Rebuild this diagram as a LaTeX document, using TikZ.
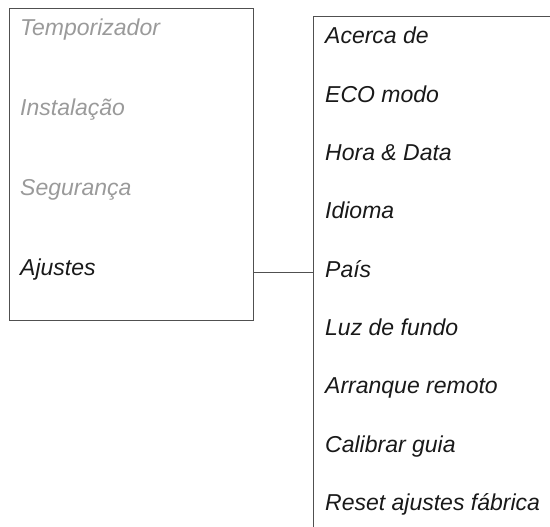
\documentclass[tikz,border=0pt]{standalone}
\usepackage{fontspec}
\setmainfont{Liberation Sans}
\usetikzlibrary{positioning}
\definecolor{menugray}{HTML}{9A9A9A}
\definecolor{framegray}{HTML}{505050}

\begin{document}
\begin{tikzpicture}[x=1pt,y=-1pt,font=\fontsize{23}{27}\selectfont\itshape]
\tikzstyle{frame}=[draw=framegray,line width=0.9pt]
\tikzstyle{item}=[anchor=base west,inner sep=0pt,text=black!90]
\tikzstyle{off}=[item,text=menugray]
\useasboundingbox (0,0) rectangle (550,527);
\clip (0,0) rectangle (550,527);
% main menu
\node[frame,draw,anchor=north west,minimum width=244pt,minimum height=312pt,inner sep=0pt] (menu) at (9,8) {};
\node[off] (timer) at (20,35.5) {Temporizador};
\node[off] (inst) at (20,115.5) {Instalação};
\node[off] (safe) at (20,195.5) {Segurança};
\node[item] (set) at (20,275.5) {Ajustes};
% submenu (runs off the page)
\node[frame,draw,anchor=north west,minimum width=300pt,minimum height=560pt,inner sep=0pt] (sub) at (313,16) {};
\foreach \name/\txt [count=\i from 0] in {about/Acerca de,eco/ECO modo,clock/Hora \& Data,lang/Idioma,country/País,light/Luz de fundo,remote/Arranque remoto,guide/Calibrar guia,reset/Reset ajustes fábrica}
  \node[item] (\name) at (325,44+58.3*\i) {\txt};
% link
\coordinate (out) at (menu.east |- 0,272);
\coordinate (in) at (sub.west |- 0,272);
\draw[frame] (out) -- (in);
\end{tikzpicture}
\end{document}
